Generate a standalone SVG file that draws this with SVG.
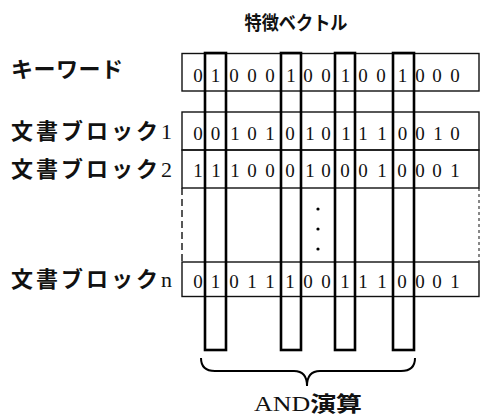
<svg xmlns="http://www.w3.org/2000/svg" width="481" height="416" viewBox="0 0 481 416">
<style>
.lbl{font-family:'Liberation Serif','Noto Sans CJK JP',serif;font-size:22px;font-weight:700;fill:#111;letter-spacing:3px}
.bits{font-family:'Liberation Serif',serif;font-size:19px;fill:#111;text-anchor:middle}
.row{fill:none;stroke:#111;stroke-width:1.4}
.col{fill:none;stroke:#000;stroke-width:2.6}
.ttl{font-family:'Noto Sans CJK JP',sans-serif;font-size:19px;font-weight:700;fill:#111;text-anchor:middle}
.brace{fill:none;stroke:#000;stroke-width:2}
</style>
<g id="title"><text class="ttl" x="296" y="30" textLength="103" lengthAdjust="spacingAndGlyphs">特徴ベクトル</text></g>

<g id="keyword">
<text class="lbl" x="11" y="77" style="letter-spacing:0.5px">キーワード</text>
<rect class="row" x="182" y="53.5" width="297" height="37.5"/>
<text class="bits" y="82"><tspan x="198">0</tspan><tspan x="215.5">1</tspan><tspan x="234">0</tspan><tspan x="252">0</tspan><tspan x="270">0</tspan><tspan x="291">1</tspan><tspan x="308">0</tspan><tspan x="326">0</tspan><tspan x="345.5">1</tspan><tspan x="363">0</tspan><tspan x="381">0</tspan><tspan x="402.5">1</tspan><tspan x="420">0</tspan><tspan x="437">0</tspan><tspan x="455">0</tspan></text>
</g>

<g id="block1">
<text class="lbl" x="11" y="139">文書ブロック<tspan font-weight="400">1</tspan></text>
<rect class="row" x="182" y="112" width="297" height="38"/>
<text class="bits" y="140"><tspan x="198">0</tspan><tspan x="215.5">0</tspan><tspan x="235">1</tspan><tspan x="252">0</tspan><tspan x="270">1</tspan><tspan x="290">0</tspan><tspan x="310">1</tspan><tspan x="326">0</tspan><tspan x="346">1</tspan><tspan x="363">1</tspan><tspan x="382">1</tspan><tspan x="402.5">0</tspan><tspan x="420">0</tspan><tspan x="438">1</tspan><tspan x="455">0</tspan></text>
</g>

<g id="block2">
<text class="lbl" x="11" y="177">文書ブロック<tspan font-weight="400">2</tspan></text>
<rect class="row" x="182" y="150" width="297" height="38"/>
<text class="bits" y="177"><tspan x="198">1</tspan><tspan x="216">1</tspan><tspan x="235">1</tspan><tspan x="252">0</tspan><tspan x="270">0</tspan><tspan x="290">0</tspan><tspan x="310">1</tspan><tspan x="326">0</tspan><tspan x="345">0</tspan><tspan x="363">0</tspan><tspan x="382">1</tspan><tspan x="402">0</tspan><tspan x="420">0</tspan><tspan x="437">0</tspan><tspan x="455">1</tspan></text>
</g>

<g id="ellipsis">
<line x1="182" y1="188" x2="182" y2="262" stroke="#111" stroke-width="1.4" stroke-dasharray="7 4"/>
<line x1="479" y1="188" x2="479" y2="262" stroke="#111" stroke-width="1" stroke-dasharray="3 3"/>
<circle cx="318" cy="209" r="1.6" fill="#000"/>
<circle cx="318" cy="229" r="1.6" fill="#000"/>
<circle cx="318" cy="249" r="1.6" fill="#000"/>
</g>

<g id="blockn">
<text class="lbl" x="11" y="287">文書ブロック<tspan font-weight="400">n</tspan></text>
<rect class="row" x="182" y="262" width="297" height="34.5"/>
<text class="bits" y="288"><tspan x="198">0</tspan><tspan x="215.5">1</tspan><tspan x="234">0</tspan><tspan x="252">1</tspan><tspan x="270">1</tspan><tspan x="290">1</tspan><tspan x="308">0</tspan><tspan x="326">0</tspan><tspan x="345">1</tspan><tspan x="363">1</tspan><tspan x="382">1</tspan><tspan x="402">0</tspan><tspan x="420">0</tspan><tspan x="437">0</tspan><tspan x="455">1</tspan></text>
</g>

<g id="and-columns">
<rect class="col" x="205" y="53" width="21" height="297"/>
<rect class="col" x="281" y="53" width="20" height="297"/>
<rect class="col" x="335" y="53" width="20" height="297"/>
<rect class="col" x="393" y="53" width="21" height="297"/>
</g>

<g id="connectors">
<path class="brace" d="M201,358 Q201,371 215,371 L294,371 Q307,371 307,386 Q307,371 320,371 L401,371 Q415,371 415,358"/>
</g>

<g id="and-label">
<text x="308" y="411" text-anchor="middle" style="font-family:'Liberation Serif','Noto Sans CJK JP',serif;font-size:21px;fill:#111" textLength="108" lengthAdjust="spacingAndGlyphs">AND<tspan font-weight="700">演算</tspan></text>
</g>
</svg>
